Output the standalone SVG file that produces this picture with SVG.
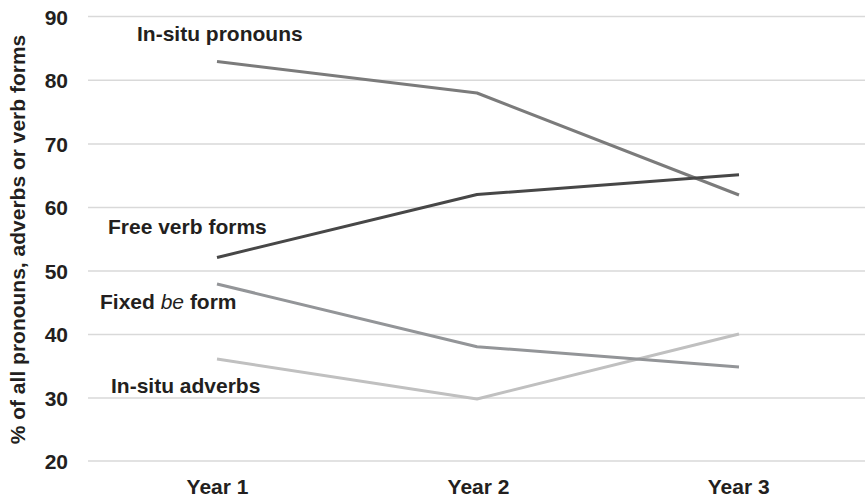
<svg xmlns="http://www.w3.org/2000/svg" width="865" height="498" viewBox="0 0 865 498">
<style>
text{font-family:"Liberation Sans",Arial,sans-serif;font-weight:bold;font-size:21px;fill:#231f20}
.tick{text-anchor:end}
.yr{text-anchor:middle}
.grid line{stroke:#d9d9d9;stroke-width:1.5}
.series{fill:none;stroke-width:3;stroke-linejoin:round}
</style>
<rect width="865" height="498" fill="#ffffff"/>
<g id="grid" class="grid">
<line x1="88" y1="16.5" x2="865" y2="16.5"/>
<line x1="88" y1="80.3" x2="865" y2="80.3"/>
<line x1="88" y1="144" x2="865" y2="144"/>
<line x1="88" y1="207.5" x2="865" y2="207.5"/>
<line x1="88" y1="271" x2="865" y2="271"/>
<line x1="88" y1="334.5" x2="865" y2="334.5"/>
<line x1="88" y1="398" x2="865" y2="398"/>
<line x1="88" y1="461" x2="865" y2="461"/>
</g>
<g id="y-axis">
<text class="tick" x="68" y="24.5">90</text>
<text class="tick" x="68" y="88">80</text>
<text class="tick" x="68" y="151.5">70</text>
<text class="tick" x="68" y="215">60</text>
<text class="tick" x="68" y="278.5">50</text>
<text class="tick" x="68" y="342">40</text>
<text class="tick" x="68" y="405.5">30</text>
<text class="tick" x="68" y="469">20</text>
<text id="y-title" class="yr" transform="translate(25,239.5) rotate(-90)">% of all pronouns, adverbs or verb forms</text>
</g>
<g id="x-axis">
<text class="yr" x="217.5" y="494">Year 1</text>
<text class="yr" x="478.5" y="494">Year 2</text>
<text class="yr" x="738.7" y="494">Year 3</text>
</g>
<g id="connectors">
<polyline id="in-situ-pronouns-line" class="series" stroke="#7b7b7b" points="217,61.5 477,93 739,195"/>
<polyline id="free-verb-forms-line" class="series" stroke="#474747" points="217,257.5 477,194.5 739,174.7"/>
<polyline id="in-situ-adverbs-line" class="series" stroke="#c0c0c0" points="217,359 477,399 739,334"/>
<polyline id="fixed-be-form-line" class="series" stroke="#939598" points="217,284 477,346.7 739,367"/>
</g>
<g id="in-situ-pronouns"><text x="137" y="40.5">In-situ pronouns</text></g>
<g id="free-verb-forms"><text x="108" y="233.5">Free verb forms</text></g>
<g id="fixed-be-form"><text x="100" y="309">Fixed <tspan font-style="italic" font-weight="normal">be</tspan> form</text></g>
<g id="in-situ-adverbs"><text x="111" y="392.5">In-situ adverbs</text></g>
</svg>
